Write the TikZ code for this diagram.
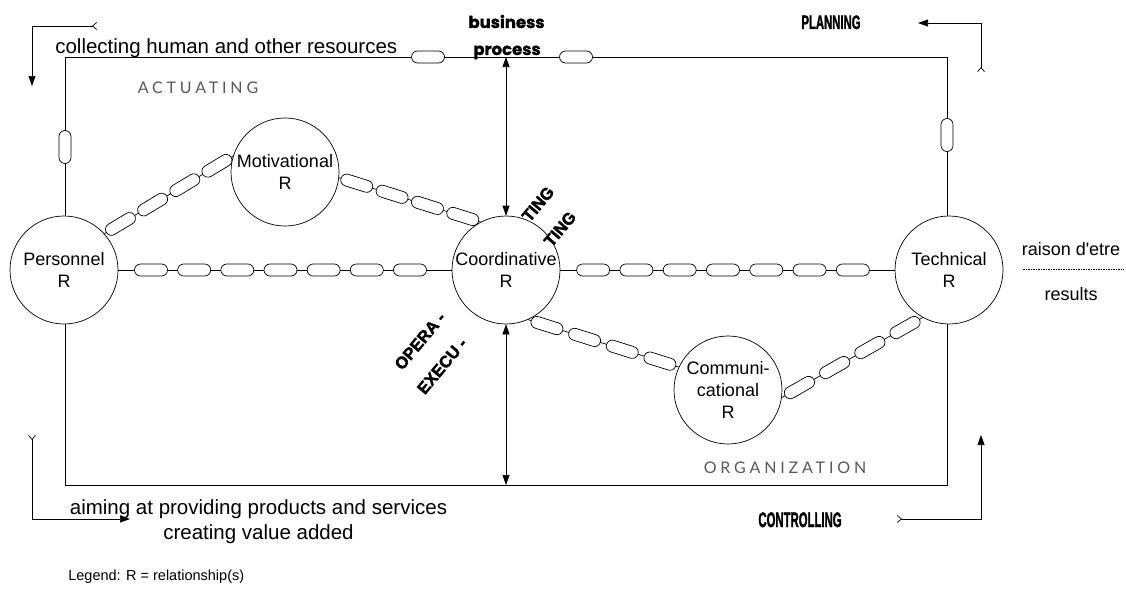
\documentclass[tikz,border=0pt]{standalone}
\usepackage{fontspec}
\setmainfont{Liberation Sans}[Ligatures=TeXOff]
\newfontfamily\handfont[LetterSpace=24]{Lato}
\newfontfamily\roundfont[BoldFeatures={FakeBold=1.2}]{Poppins}
\newfontfamily\blackfont[BoldFeatures={FakeBold=2.2}]{Liberation Sans}
\usetikzlibrary{arrows.meta,shapes.misc}

\tikzset{
  tailbarb/.tip={Straight Barb[reversed,length=4pt,width=7pt]},
  headtri/.tip={Triangle[length=10pt,width=7pt]},
}

\begin{document}
\begin{tikzpicture}[x=1pt,y=-1pt,line width=0.7pt,>=headtri,
  rel/.style={circle,draw,fill=white,minimum size=108pt,inner sep=0pt,align=center,
              font=\fontsize{18}{22}\selectfont},
  link/.style={rounded rectangle,draw,fill=white,minimum width=33pt,minimum height=12pt,
               inner sep=0pt,sloped},
  flow/.style={arrows={tailbarb-headtri}},
  txt/.style={inner sep=0pt,font=\fontsize{20.5}{25}\selectfont},
  side/.style={inner sep=0pt,font=\fontsize{18}{22}\selectfont},
  hand/.style={inner sep=0pt,text=black!65,font=\handfont\fontsize{16}{18}\selectfont},
  heavy/.style={inner sep=0pt,font=\blackfont\bfseries\fontsize{16.5}{20}\selectfont,rotate=50},
  cond/.style={inner sep=0pt,font=\blackfont\bfseries},
  round/.style={inner sep=0pt,font=\roundfont\bfseries\fontsize{16.5}{18}\selectfont},
  fine/.style={line width=0.5pt,dash pattern=on 1.5pt off 1pt},
]
\useasboundingbox (0,0) rectangle (1126,594);

% outer frame of the business process
\draw (65,57) rectangle (947,485);
\node[link] (lt1) at (428,57) {};
\node[link] (lt2) at (576,57) {};
\node[link,rotate=90] (lleft) at (65,147) {};
\node[link,rotate=90] (lright) at (947,135) {};

% relationship circles
\node[rel] (pers)  at (64,270)  {Personnel\\R};
\node[rel] (mot)   at (285,172) {Motivational\\R};
\node[rel] (coord) at (506,270) {Coordinative\\R};
\node[rel] (tech)  at (949,270) {Technical\\R};
\node[rel] (comm)  at (728,390) {Communi-\\cational\\R};

% chains of links between the relationships
\draw (pers) -- (coord)
  node[link,pos=.098]{} node[link,pos=.2275]{} node[link,pos=.357]{}
  node[link,pos=.4865]{} node[link,pos=.616]{} node[link,pos=.7455]{}
  node[link,pos=.875]{};
\draw (coord) -- (tech)
  node[link,pos=.098]{} node[link,pos=.2275]{} node[link,pos=.357]{}
  node[link,pos=.4865]{} node[link,pos=.616]{} node[link,pos=.7455]{}
  node[link,pos=.875]{};
\draw (pers.42) -- (mot.163)
  node[link,pos=.125]{} node[link,pos=.375]{} node[link,pos=.625]{} node[link,pos=.875]{};
\draw (mot.-6) -- (coord.118)
  node[link,pos=.125]{} node[link,pos=.375]{} node[link,pos=.625]{} node[link,pos=.875]{};
\draw (coord.-66) -- (comm.155)
  node[link,pos=.125]{} node[link,pos=.375]{} node[link,pos=.625]{} node[link,pos=.875]{};
\draw (comm.-8) -- (tech.241)
  node[link,pos=.125]{} node[link,pos=.375]{} node[link,pos=.625]{} node[link,pos=.875]{};

% vertical double arrows through the coordinative relationship
\coordinate (bp) at (506,57);
\coordinate (bb) at (506,485);
\draw[<->] (coord) -- (bp);
\draw[<->] (coord) -- (bb);

% management cycle arrows in the corners
\coordinate (tlA) at (97,26);  \coordinate (tlB) at (32,26);  \coordinate (tlC) at (32,86);
\coordinate (trA) at (981,72); \coordinate (trB) at (981,23); \coordinate (trC) at (918,23);
\coordinate (blA) at (32,435); \coordinate (blB) at (32,519); \coordinate (blC) at (130,519);
\coordinate (brA) at (897,519);\coordinate (brB) at (981,519);\coordinate (brC) at (981,435);
\draw[flow] (tlA) -- (tlB) -- (tlC);
\draw[flow] (trA) -- (trB) -- (trC);
\draw[flow] (blA) -- (blB) -- (blC);
\draw[flow] (brA) -- (brB) -- (brC);

% labels
\node[txt,anchor=base west] (collect) at (55,54) {collecting human and other resources};
\node[txt,anchor=base] (aim1) at (258.5,514) {aiming at providing products and services};
\node[txt,anchor=base] (aim2) at (258.5,539) {creating value added};
\node[inner sep=0pt,font=\fontsize{14.5}{16}\selectfont,anchor=base west] (legend) at (68,580)
  {Legend: R = relationship(s)};

\node[side,anchor=base] (raison) at (1071,255) {raison d'etre};
\node[side,anchor=base] (results) at (1071,300) {results};
\coordinate (d1) at (1023,269); \coordinate (d2) at (1124,269);
\draw[fine] (d1) -- (d2);

\node[hand] (actuating) at (198,88) {ACTUATING};
\node[hand] (organization) at (785,468) {ORGANIZATION};

\node[round,anchor=base] (bus1) at (506.5,28) {business};
\node[round,anchor=base] (bus2) at (507,55) {process};

\node[cond,anchor=base] (planning) at (831,29)
  {\fontsize{19.5}{21}\selectfont\scalebox{0.58}[1]{PLANNING}};
\node[cond,anchor=base] (controlling) at (800,527)
  {\fontsize{21}{23}\selectfont\scalebox{0.54}[1]{CONTROLLING}};

\node[heavy] (op1) at (420,341) {OPERA -};
\node[heavy] (op2) at (442,366) {EXECU -};
\node[heavy] (tg1) at (538,204) {TING};
\node[heavy] (tg2) at (560,229) {TING};
\end{tikzpicture}
\end{document}
